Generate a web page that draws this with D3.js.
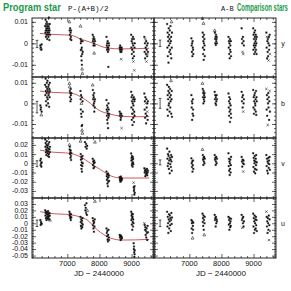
<!DOCTYPE html>
<html>
<head>
<meta charset="utf-8">
<script src="https://cdn.jsdelivr.net/npm/d3@7"></script>
<style>
  body { margin: 0; background: #fff; }
  svg text { font-family: "Liberation Sans", Arial, sans-serif; fill: #111; }
</style>
</head>
<body>
<div id="chart"></div>
<script>
// photometric bands, one row each
const bands = ["y", "b", "v", "u"]

// observing seasons, JD - 2440000 (start, end)
const seasons = [
  [6160, 6200], [6310, 6460], [7065, 7125], [7410, 7480], [7550, 7620],
  [7790, 7860], [8220, 8300], [8630, 8700], [8990, 9100], [9400, 9510]
]

// values in mmag, per season; prefix t = triangle, x = cross, none = filled square
const programY = [
  "-1 -2 t-2.3 -3 -0.5",
  "8 5 11 6 3 9 7 4 10 6 8 2 5 7 9 4 6 3 8 12 5 7 1.5 6 9 4",
  "t10 6 4 7 2 5 3 6 1.5",
  "t8 2 0 -3 1 -6 t-3 -8 -2 -10 t-12 -5 t-14 1 -4",
  "",
  "4 1 2 -1 3 0 t-4.6 2 -1 1",
  "3 -1 -3 0 -2 1 -4 -2 -11 -3 0 -1",
  "-2 -3 -1 -4 -2 -3 x-7.4 -4 -2 -3",
  "4 -2 1 -5 2 -3 0 -7 3 -1 x-8.5 -4 2 -6 x-12.6 -2 0",
  "3 -4 0 -7 x2 -2 -5 1 x-8.5 -3 -1 -6 x-5 0 -4"
]
const programB = [
  "-1 -3 -2 t-5.6 -4",
  "9 4 12 6 1 8 -1 5 10 3 7 11 2 6 0 8 4 9 5 -1.6 7 3 10 6",
  "t9.7 t8 6 3 5 1 7 4 2 5",
  "6 2 -3 4 -5 t0 -6.5 -11 3 t-13 -10.5 t-14.5 1 -4",
  "",
  "t8.9 6.5 2 4 -1 3 0 5 -4 1 -2 2",
  "1.6 -3 -6 -1 -8 -4 -9.7 -2 -5 -12 -7 0 -3 -6 -5",
  "-4 -6 -5 -8 -7 -5 x-12 -6",
  "5.6 -2 3 -8 1 -5 4 -10.5 0 -3 2 -7 -1 x-5 3 -9 -4 1 -6 2",
  "4.8 -3 1 -7 3 -5 x0 -9.7 2 -2 -6 x-4 0 -8 1"
]
const programV = [
  "3 -2 5 0 -3.6 1",
  "26 18 22 12 15 9 20 24 14 17 11 19 8 13 21 16 10 7 23 15 12 18",
  "t20 15 18 10 12 6 14 8 3.6 11",
  "t24 10 4 -2 7 -6 1 -9 5 -3 8 0",
  "23 18 21 16 19",
  "5 -2 2 -5.4 0 3 -4 1 t23",
  "-9 -14 -18 -12 -22 -16 -25 -11 -20 -15 -13 -19",
  "-15 -18 -16 -20 -17 -14.5 -19 -16 -18 -17",
  "10.7 3 6 -2 8 0 4 -3.6 7 1 5 -1 x-21 -26 -30 -28 -34 -25 -32",
  "-5.4 -10 -8 -14 -7 -12 -9 -11 -6 -13 -10 -8"
]
const programU = [
  "5 -2.6 2 0 -1",
  "20 12 16 8 18 5 14 10 17 7 13 19 9 15 11 6 16 12 t5",
  "18 12 15 8 10 5 14 9",
  "10 2 -4 6 -8 x-4 0 4 -6 8 -2",
  "28 20 24 16 31 13 t20",
  "8 -3 4 -8 0 -13 2 -5 6 t34",
  "-8 -15 -20 -12 -25 -28 -18 -10 -22 -26",
  "-18 -22 -20 -26 -19 -24 -21 -23",
  "18 5 12 -2 15 8 -10 10 2 14 -5 6 0 -31 -40 -36 -45 -52 -48 -42",
  "x0 -2.6 -10 -6 -18 -12 -22 -8 -15 -26 -4 -14"
]
const compY = [
  "",
  "9 -2 5 -6 3 1 -9 7 -1 4 -4 2 6 0 -3 8 -5 1 3 -7 t10 -2 5",
  "2.3 -1 -4 0 -6 1 -2 -3 -5",
  "t11.6 5 -2 3 -5 1 t9.3 -7.7 0 4 -3 2 -1 -6",
  "",
  "t6 5 2 0 3 -0.8 4 1 2 3 0",
  "3 -2 1 -5 0 -7 2 -3 -1 -4 1 -6",
  "7 2 0 x-4 3 x-5 1 -1",
  "7 -3 4 -1 2 -5 5 0 -2 3 6 -4 1 -1 4 -3 2 0 -5 3",
  "5 -2 x3 -7 1 -4 2 -6 0 x-8 3 -3 -1 4 x-5"
]
const compB = [
  "",
  "9 -3 4 -6 2 6 -1 8 0 5 -4 3 7 -2 1 4 t11 -5 2 6 -6.5",
  "4 -2 1 -8 0 -5 2 -3 -6",
  "t9.7 7 3 5 0 6 2 4 1 5 3",
  "",
  "5.6 2 4 0 3 -0.8 1 4 2",
  "4.8 -2 1 -6 3 -4 0 -9 2 -3 -1 -5 -7",
  "5.6 1 3 -2 4 x-4 0 2",
  "6.5 -2 3 -5 1 4 -3 5 0 -1 2 -4 6 -5.6 3 1",
  "x7 -3 4 -6 2 x-10.5 0 5 -2 3 -8 1 x6 -4"
]
const compV = [
  "",
  "16 5 -3 10 0 8 -6 3 12.7 -10.9 6 -1 4 -4 9 2 -8 7",
  "5.4 0 -4 2 -9 -2 3 -6",
  "t15 9 4 -1.8 6 2 7 0 5",
  "",
  "9 4 6 -1.8 2 7 0 5",
  "10.9 -3 5 -8 2 -12.7 0 -6 4 -10 -2 7",
  "7 2 -3.6 4 0 x-9 3 -1",
  "10.9 -4 6 -9 3 0 8 -6 -10.9 2 5 -2 9 -7 1",
  "9 -3 5 -8 2 -10.9 0 6 -5 3 -1 7 -7"
]
const compU = [
  "",
  "18 -5 10 0 -15 6 14 -8 3 12 -3 8 -12 5 16 -1 9",
  "5 -8 0 -15 3 t-23 -4 -10 1",
  "15 2 8 -4 12 -10 5 t-18 0 10",
  "",
  "13 5 8 -5 10 0 6 3",
  "10 -2 5 -10 8 0 -6 3 -4 7",
  "13 5 x-7 8 0 10 -5 3",
  "15 -5 8 -15 3 12 -10 0 6 -8 10 -3 5 -12",
  "x18 10 -5 3 -15 8 0 -10 12 x-26 -3 6 x-12"
]

// red trend through the program star (JD, mmag)
const trendY = [[6150, 4.6], [6450, 4.2], [7100, 3.8], [7450, 1.8], [7820, 0], [8250, -2.2], [8700, -2.6], [9100, -2.5], [9550, -2.3]]
const trendB = [[6150, 6], [6450, 5.4], [7100, 5], [7440, 3], [7720, 0], [7940, -2.9], [8350, -5.3], [8670, -6.2], [9100, -6.5], [9550, -6.4]]
const trendV = [[6150, 14.3], [6450, 12.5], [7100, 10.7], [7410, 7], [7720, 0], [8040, -7], [8350, -13.6], [8670, -16], [9550, -16]]
const trendU = [[6150, 18], [6450, 15.5], [7100, 13], [7400, 10], [7620, 5], [7930, -10], [8350, -23], [8700, -26], [9550, -25]]

// typical error bars (centre, half length) in mmag
const errProgram = [[-0.3, 1.7], [-1.8, 2.8], [-0.4, 3.2], [0, 5]]
const errComp = [[0, 1.5], [0, 2.4], [1, 2.7], [0, 5]]
const errJD = [6056, 6090]

const xTicks = [7000, 8000, 9000]
const yTicks = [
  [0.01, 0, -0.01],
  [0.01, 0, -0.01],
  [0.02, 0.01, 0, -0.01, -0.02, -0.03],
  [0.03, 0.02, 0.01, 0, -0.01, -0.02, -0.03, -0.04, -0.05]
]

// ---------- layout ----------
const width = 291, height = 291
const cols = [[32, 154], [154, 276]]
const rows = [18, 77, 138, 198, 258]
const yDomains = [[-0.0157, 0.0118], [-0.0168, 0.0128], [-0.0377, 0.0275], [-0.0538, 0.0392]]
const yMinor = [0.002, 0.002, 0.002, 0.0025]
const red = "#cf5a5a"

const programData = [programY, programB, programV, programU]
const compData = [compY, compB, compV, compU]
const trends = [trendY, trendB, trendV, trendU]

let svg = d3.select("#chart").append("svg")
  .attr("width", width)
  .attr("height", height)

function parseSeason(str) {
  return str.trim().split(/\s+/).filter(s => s.length).map(function(tok) {
    let c = tok[0]
    if (c == "t" || c == "x") return { sym: c, v: +tok.slice(1) / 1000 }
    return { sym: "s", v: +tok / 1000 }
  })
}

function drawPanel(col, row) {
  let x = d3.scaleLinear().domain([5900, 9700]).range(cols[col])
  let y = d3.scaleLinear().domain(yDomains[row]).range([rows[row + 1], rows[row]])
  let g = svg.append("g")

  let minorX = d3.range(6000, 9700, 200).filter(d => d % 1000 != 0)
  let minorY = d3.range(Math.ceil(yDomains[row][0] / yMinor[row]) * yMinor[row], yDomains[row][1], yMinor[row])

  // ticks on all four sides, pointing inward
  let axes = [
    [d3.axisTop, x, rows[row], true], [d3.axisBottom, x, rows[row + 1], true],
    [d3.axisLeft, y, cols[col][0], false], [d3.axisRight, y, cols[col][1], false]
  ]
  axes.forEach(function(a) {
    let major = a[3] ? xTicks : yTicks[row]
    let minor = a[3] ? minorX : minorY
    let tr = a[3] ? "translate(0," + a[2] + ")" : "translate(" + a[2] + ",0)"
    g.append("g").attr("transform", tr)
      .call(a[0](a[1]).tickValues(major).tickSize(-4).tickFormat(""))
    g.append("g").attr("transform", tr)
      .call(a[0](a[1]).tickValues(minor).tickSize(-2).tickFormat(""))
  })
  g.selectAll(".domain").remove()
  g.selectAll(".tick line").attr("stroke", "#222").attr("stroke-width", 0.7)

  g.append("rect")
    .attr("x", cols[col][0]).attr("y", rows[row])
    .attr("width", cols[col][1] - cols[col][0]).attr("height", rows[row + 1] - rows[row])
    .attr("fill", "none").attr("stroke", "#111").attr("stroke-width", 0.9)

  // tick labels only on the outer left / bottom
  if (col == 0) {
    g.selectAll(".ylab").data(yTicks[row]).enter().append("text")
      .attr("x", 28).attr("y", d => y(d) + 2.4)
      .attr("text-anchor", "end").style("font-size", "7px")
      .text(d => d == 0 ? "0" : d3.format(".2f")(d).replace("\u2212", "-"))
  }
  if (row == 3) {
    g.selectAll(".xlab").data(xTicks).enter().append("text")
      .attr("x", d => x(d)).attr("y", 266)
      .attr("text-anchor", "middle").style("font-size", "7.5px")
      .text(d => d)
    g.append("text")
      .attr("x", (cols[col][0] + cols[col][1]) / 2 + 6).attr("y", 276)
      .attr("text-anchor", "middle").style("font-size", "8px")
      .text("JD  \u2212  2440000")
  }

  // error bar
  let err = (col == 0 ? errProgram : errComp)[row]
  let ex = x(errJD[col])
  let e0 = y((err[0] - err[1]) / 1000), e1 = y((err[0] + err[1]) / 1000)
  g.append("path")
    .attr("d", "M" + ex + "," + e0 + "V" + e1 + "M" + (ex - 1.3) + "," + e0 + "h2.6M" + (ex - 1.3) + "," + e1 + "h2.6")
    .attr("stroke", "#111").attr("stroke-width", 0.7).attr("fill", "none")

  // trend curve under the points
  if (col == 0) {
    let line = d3.line()
      .x(d => x(d[0])).y(d => y(d[1] / 1000))
      .curve(d3.curveMonotoneX)
    g.append("path").datum(trends[row])
      .attr("d", line)
      .attr("fill", "none").attr("stroke", red).attr("stroke-width", 1)
  }

  // observations
  let pts = []
  let src = (col == 0 ? programData : compData)[row]
  src.forEach(function(str, si) {
    let vals = parseSeason(str)
    let s = seasons[si]
    vals.forEach(function(p, i) {
      let jd = vals.length > 1 ? s[0] + (s[1] - s[0]) * i / (vals.length - 1) : (s[0] + s[1]) / 2
      pts.push({ jd: jd, v: p.v, sym: p.sym })
    })
  })

  g.append("g").selectAll("path").data(pts).enter().append("path")
    .attr("transform", d => "translate(" + x(d.jd) + "," + y(d.v) + ")")
    .attr("d", function(d) {
      if (d.sym == "t") return "M0,-1.6L1.4,1L-1.4,1Z"
      if (d.sym == "x") return "M-1.2,-1.2L1.2,1.2M-1.2,1.2L1.2,-1.2"
      return "M-0.8,-0.8h1.6v1.6h-1.6Z"
    })
    .attr("fill", d => d.sym == "s" ? "#111" : "none")
    .attr("stroke", "#111")
    .attr("stroke-width", d => d.sym == "s" ? 0.3 : 0.55)

  if (col == 1) {
    g.append("text")
      .attr("x", 283).attr("y", y(0) + 2.5)
      .attr("text-anchor", "middle")
      .style("font-size", "7px")
      .text(bands[row])
  }
}

for (let r = 0; r < 4; r++) {
  drawPanel(0, r)
  drawPanel(1, r)
}

// headers (squeezed horizontally like the condensed face of the original)
let green = "#1b9a4c"
svg.append("text").attr("transform", "translate(3,11) scale(0.93,1)")
  .style("font-size", "10px").style("font-weight", "bold").style("fill", green)
  .text("Program star")
svg.append("text").attr("x", 68).attr("y", 11)
  .style("font-family", "'Liberation Mono', monospace")
  .style("font-size", "7.5px")
  .text("P-(A+B)/2")
svg.append("text").attr("x", 221).attr("y", 11)
  .style("font-family", "'Liberation Mono', monospace")
  .style("font-size", "7px")
  .text("A-B")
svg.append("text").attr("transform", "translate(237,11) scale(0.6,1)")
  .style("font-size", "10px").style("font-weight", "bold").style("fill", green)
  .text("Comparison stars")
</script>
</body>
</html>
